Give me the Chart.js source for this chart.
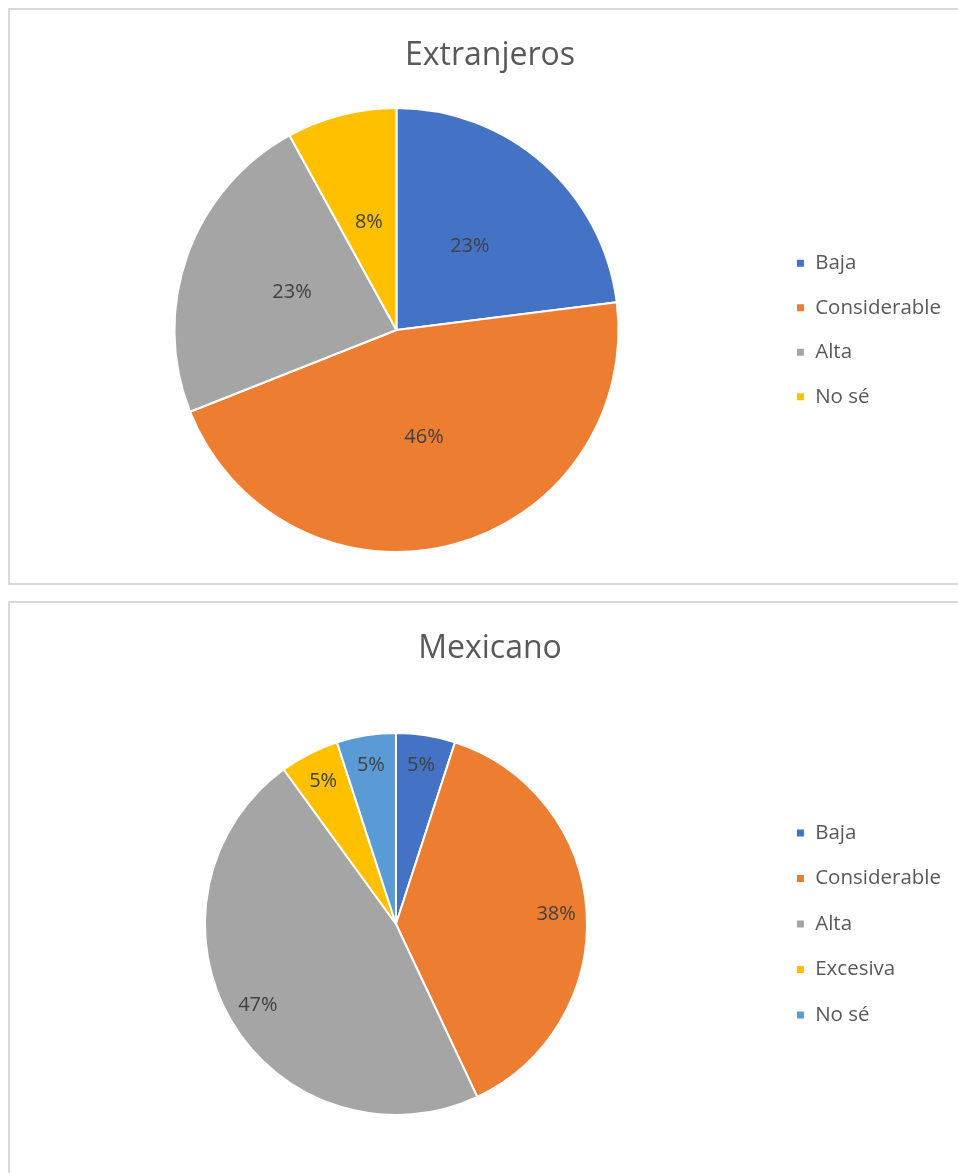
<!DOCTYPE html>
<html>
<head>
<meta charset="utf-8">
<script src="https://cdn.jsdelivr.net/npm/chart.js@4"></script>
<style>
  html, body { margin: 0; padding: 0; background: #fff; }
  body { width: 958px; height: 1173px; overflow: hidden; position: relative; }
  .panel { position: absolute; left: 8px; border: 2px solid #d9d9d9; border-right: none; background: #fff; }
  #p1 { top: 8px; width: 950px; height: 573px; }
  #p2 { top: 601px; width: 950px; height: 580px; }
  .panel canvas { display: block; }
</style>
</head>
<body>
<div class="panel" id="p1"><canvas id="c1" width="948" height="573"></canvas></div>
<div class="panel" id="p2"><canvas id="c2" width="948" height="570"></canvas></div>
<script>
// Data
const extCategorias = ["Baja", "Considerable", "Alta", "No sé"];
const extValores = [23, 46, 23, 8];
const mexCategorias = ["Baja", "Considerable", "Alta", "Excesiva", "No sé"];
const mexValores = [5, 38, 47, 5, 5];

// Office palette
const azul = "#4472C4";
const naranja = "#ED7D31";
const gris = "#A5A5A5";
const amarillo = "#FFC000";
const azulClaro = "#5B9BD5";

const fuente = "'Open Sans', 'Noto Sans', sans-serif";

// etiquetas de porcentaje dentro de cada rebanada
const etiquetas = {
  id: "etiquetas",
  afterLayout(chart) {
    // el titulo de Excel queda un poco a la derecha del centro
    chart.titleBlock.left += 4;
    chart.titleBlock.right += 4;
  },
  afterDatasetsDraw(chart, args, opts) {
    const ctx = chart.ctx;
    const meta = chart.getDatasetMeta(0);
    const datos = chart.data.datasets[0].data;
    ctx.save();
    ctx.font = "20px " + fuente;
    ctx.fillStyle = "#404040";
    ctx.textAlign = "center";
    ctx.textBaseline = "middle";
    meta.data.forEach((arc, i) => {
      const p = arc.getProps(["x", "y", "startAngle", "endAngle", "outerRadius"], true);
      const a = (p.startAngle + p.endAngle) / 2;
      const r = p.outerRadius * opts.factor;
      ctx.fillText(datos[i] + "%", p.x + Math.cos(a) * r, p.y + Math.sin(a) * r);
    });
    ctx.restore();
  },
};

function crearPastel(id, titulo, labels, valores, colores, radio, factor, pad, sep) {
  const ctx = document.getElementById(id).getContext("2d");
  return new Chart(ctx, {
    type: "pie",
    data: {
      labels: labels,
      datasets: [
        {
          data: valores,
          backgroundColor: colores,
          borderColor: "#fff",
          borderWidth: 2,
          radius: radio,
        },
      ],
    },
    options: {
      responsive: false,
      animation: false,
      layout: { padding: pad },
      plugins: {
        title: {
          display: true,
          text: titulo,
          color: "#595959",
          font: { family: fuente, size: 32, weight: "normal" },
          padding: { top: 27, bottom: 32.6 },
        },
        legend: {
          position: "right",
          title: {
            display: true,
            text: "",
            font: { size: 10, lineHeight: 1 },
            padding: { top: 88, bottom: 0 },
          },
          labels: {
            boxWidth: 9,
            boxHeight: 9,
            padding: sep,
            color: "#595959",
            font: { family: fuente, size: 20.5 },
          },
        },
        tooltip: { enabled: false },
        etiquetas: { factor: factor },
      },
    },
    plugins: [etiquetas],
  });
}

crearPastel("c1", "Extranjeros", extCategorias, extValores,
  [azul, naranja, gris, amarillo], 222, 0.5,
  { left: 11, right: 7, top: 0, bottom: 31 }, 24);

crearPastel("c2", "Mexicano", mexCategorias, mexValores,
  [azul, naranja, gris, amarillo, azulClaro], 191, 0.84,
  { left: 11, right: 7, top: 0, bottom: 26 }, 25);
</script>
</body>
</html>
